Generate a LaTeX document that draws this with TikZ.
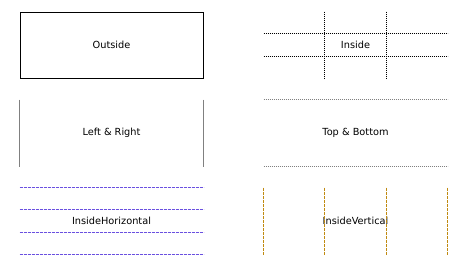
\documentclass[tikz,border=0pt]{standalone}
\usepackage{fontspec}
\setmainfont{DejaVu Sans}
\usetikzlibrary{calc}
\definecolor{slateline}{HTML}{6A50E0}
\definecolor{goldline}{HTML}{C08A10}
\begin{document}
\begin{tikzpicture}[x=1bp,y=-1bp,line width=1bp,font=\fontsize{9.8}{12}\selectfont,
  cell/.style={minimum width=183bp,minimum height=66bp,inner sep=0pt,anchor=north west},
  dotline/.style={dash pattern=on 1bp off 1bp},
  dashline/.style={dash pattern=on 3bp off 1bp}]
\useasboundingbox (0,0) rectangle (460,267);
% cells
\node[cell,draw] (outside) at (19.5,11.5) {Outside};
\node[cell] (inside) at (263.5,11.5) {Inside};
\node[cell] (leftright) at (19.5,99.5) {Left \& Right};
\node[cell] (topbottom) at (263.5,99.5) {Top \& Bottom};
\node[cell] (insidehor) at (19.5,187.5) {InsideHorizontal};
\node[cell] (insidever) at (263.5,187.5) {InsideVertical};
% inside
\foreach \f in {1/3,2/3} {
  \draw[dotline] ($(inside.north west)!\f!(inside.south west)$) -- ($(inside.north east)!\f!(inside.south east)$);
  \draw[dotline] ($(inside.north west)!\f!(inside.north east)$) -- ($(inside.south west)!\f!(inside.south east)$);
}
% left & right
\draw[gray] (leftright.north west) -- (leftright.south west);
\draw[gray] (leftright.north east) -- (leftright.south east);
% top & bottom
\draw[gray,dotline] (topbottom.north west) -- (topbottom.north east);
\draw[gray,dotline] (topbottom.south west) -- (topbottom.south east);
% inside horizontal / vertical
\foreach \f in {0,1/3,2/3,1} {
  \draw[slateline,dashline] ($(insidehor.north west)!\f!(insidehor.south west)$) -- ($(insidehor.north east)!\f!(insidehor.south east)$);
  \draw[goldline,dashline] ($(insidever.north west)!\f!(insidever.north east)$) -- ($(insidever.south west)!\f!(insidever.south east)$);
}
\end{tikzpicture}
\end{document}
